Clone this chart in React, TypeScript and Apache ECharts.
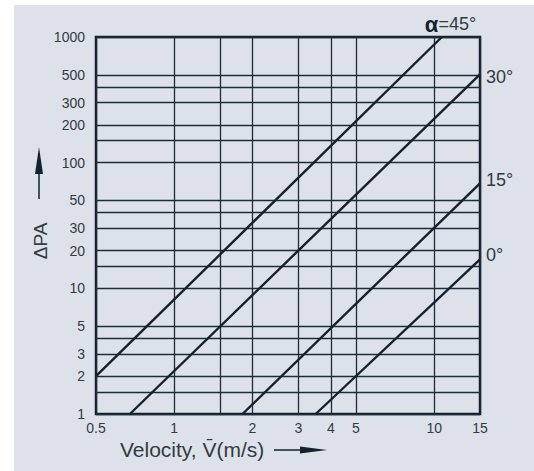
import React, { useEffect, useRef } from 'react';
import * as echarts from 'echarts';

// Grid values and tick labels
const xGridValues = [0.5, 1, 1.5, 2, 3, 4, 5, 10, 15];
const xTickLabels = ['0.5', '1', '', '2', '3', '4', '5', '10', '15'];
const yGridValues = [1, 1.5, 2, 3, 4, 5, 10, 15, 20, 30, 40, 50, 100, 150, 200, 300, 400, 500, 1000];
const yTickLabels = ['1', '', '2', '3', '', '5', '10', '', '20', '30', '', '50', '100', '', '200', '300', '', '500', '1000'];

// Curves: [velocity, pressure drop]
const angleLabels = ['α=45°', '30°', '15°', '0°'];
const line45 = [[0.5, 2.0], [10.7, 1000]];
const line30 = [[0.675, 1], [15, 505]];
const line15 = [[1.83, 1], [15, 68.5]];
const line0 = [[3.5, 1], [15, 17]];

const xAxisName = 'Velocity, V\u0304(m/s)';
const yAxisName = 'ΔPA';

const FONT = '"Liberation Sans", Arial, Helvetica, sans-serif';
const TEXT = '#333a40';
const DARK = '#15212d';
const GRID = '#1f2c38';

export default function App() {
  const ref = useRef<HTMLDivElement>(null);
  useEffect(() => {
    if (!ref.current) return;
    const chart = echarts.init(ref.current, undefined, { renderer: 'svg' });
    const curves = [line45, line30, line15, line0];
    const labelOffsets = [[-23, -13], [0, 3], [0, -3], [0, -4]];
    const series: any[] = curves.map((d, i) => ({
      type: 'line',
      data: d,
      symbol: 'none',
      silent: true,
      z: 5,
      lineStyle: { color: DARK, width: 2.4 },
      endLabel: {
        show: true,
        distance: 6,
        offset: labelOffsets[i],
        formatter: i === 0 ? '{a|α}{b|=45°}' : angleLabels[i],
        color: TEXT,
        fontSize: 18,
        fontFamily: FONT,
        rich: {
          a: { fontSize: 22, fontWeight: 'bold', color: DARK, fontFamily: FONT },
          b: { fontSize: 18, color: TEXT, fontFamily: FONT },
        },
      },
    }));
    series[0].markLine = {
      silent: true,
      symbol: ['none', 'none'],
      z: 1,
      lineStyle: { type: 'solid', color: GRID, width: 1.3 },
      label: {
        show: true,
        position: 'start',
        formatter: '{b}',
        color: TEXT,
        fontSize: 14,
        fontFamily: FONT,
        distance: 11,
      },
      emphasis: { disabled: true },
      data: yGridValues.map((v, i) => ({ yAxis: v, name: yTickLabels[i], label: { show: yTickLabels[i] !== '' } })),
    };
    series[1].markLine = {
      silent: true,
      symbol: ['none', 'none'],
      z: 1,
      lineStyle: { type: 'solid', color: GRID, width: 1.3 },
      label: {
        show: true,
        position: 'start',
        formatter: '{b}',
        color: TEXT,
        fontSize: 14,
        fontFamily: FONT,
        distance: 7,
      },
      emphasis: { disabled: true },
      data: xGridValues.map((v, i) => ({ xAxis: v, name: xTickLabels[i], label: { show: xTickLabels[i] !== '' } })),
    };

    chart.setOption({
      animation: false,
      backgroundColor: 'transparent',
      grid: {
        left: 96,
        top: 37,
        right: 54,
        bottom: 57,
        show: true,
        borderColor: DARK,
        borderWidth: 2.5,
        backgroundColor: 'transparent',
      },
      xAxis: {
        type: 'log',
        logBase: 10,
        min: 0.5,
        max: 15,
        axisLine: { show: false },
        axisTick: { show: false },
        axisLabel: { show: false },
        splitLine: { show: false },
      },
      yAxis: {
        type: 'log',
        logBase: 10,
        min: 1,
        max: 1000,
        axisLine: { show: false },
        axisTick: { show: false },
        axisLabel: { show: false },
        splitLine: { show: false },
      },
      graphic: [
        {
          type: 'text',
          x: 120,
          y: 449,
          style: { text: xAxisName, fontSize: 21, fontFamily: FONT, fill: TEXT, align: 'left', verticalAlign: 'middle' },
        },
        {
          type: 'text',
          x: 40,
          y: 241,
          rotation: Math.PI / 2,
          style: { text: yAxisName, fontSize: 19, fontFamily: FONT, fill: TEXT, align: 'center', verticalAlign: 'middle' },
        },
        { type: 'line', shape: { x1: 39, y1: 199, x2: 39, y2: 170 }, style: { stroke: DARK, lineWidth: 1.5 } },
        { type: 'polygon', shape: { points: [[35, 174], [43, 174], [39, 147]] }, style: { fill: DARK } },
        { type: 'line', shape: { x1: 274, y1: 450, x2: 303, y2: 450 }, style: { stroke: DARK, lineWidth: 1.5 } },
        { type: 'polygon', shape: { points: [[300, 446.5], [300, 453.5], [327, 450]] }, style: { fill: DARK } },
      ],
      series,
    });
    return () => chart.dispose();
  }, []);

  return (
    <div style={{ position: 'fixed', left: 0, top: 0, width: 534, height: 471, background: '#ffffff' }}>
      <div style={{ position: 'absolute', left: 14, top: 5, width: 520, height: 466, background: '#dde2ea' }} />
      <div ref={ref} style={{ position: 'absolute', left: 0, top: 0, width: 534, height: 471 }} />
    </div>
  );
}
